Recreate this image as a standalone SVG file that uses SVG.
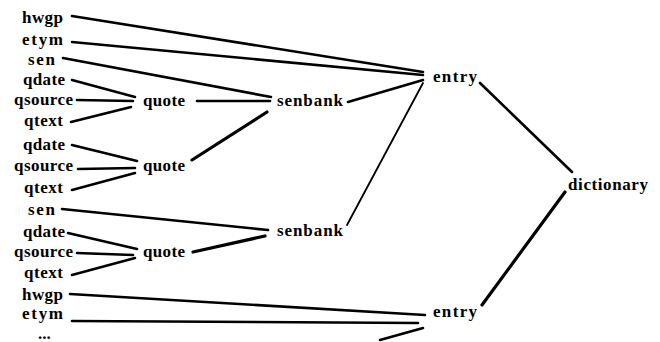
<svg xmlns="http://www.w3.org/2000/svg" width="660" height="342" viewBox="0 0 660 342">
<style>
text{font-family:"Liberation Serif","DejaVu Serif","Times New Roman",serif;font-weight:700;font-size:17px;fill:#000}
.e{stroke:#000;stroke-width:2.6;stroke-linecap:round;fill:none}
.t{stroke-width:1.8}
.k{stroke-width:3.2}
</style>
<rect width="660" height="342" fill="#fff"/>
<g id="connectors">
<line class="e" x1="72" y1="16" x2="423" y2="72"/>
<line class="e" x1="72" y1="42" x2="423" y2="75"/>
<line class="e" x1="63" y1="58" x2="271" y2="97"/>
<line class="e" x1="348" y1="102" x2="423" y2="80"/>
<line class="e t" x1="347" y1="225" x2="423" y2="83"/>
<line class="e" x1="197" y1="101" x2="270" y2="101"/>
<line class="e k" x1="192" y1="160" x2="267" y2="112"/>
<line class="e" x1="72" y1="80" x2="135" y2="97"/>
<line class="e" x1="77" y1="100" x2="133" y2="101"/>
<line class="e" x1="71" y1="122" x2="131" y2="107"/>
<line class="e" x1="72" y1="145" x2="137" y2="161"/>
<line class="e" x1="78" y1="169" x2="135" y2="168"/>
<line class="e" x1="72" y1="190" x2="135" y2="173"/>
<line class="e" x1="62" y1="209" x2="268" y2="230"/>
<line class="e k" x1="193" y1="252" x2="265" y2="236"/>
<line class="e" x1="68" y1="233" x2="137" y2="249"/>
<line class="e" x1="77" y1="253" x2="133" y2="255"/>
<line class="e" x1="72" y1="275" x2="135" y2="258"/>
<line class="e" x1="70" y1="294" x2="425" y2="315"/>
<line class="e" x1="72" y1="321" x2="418" y2="323"/>
<line class="e" x1="423" y1="328" x2="380" y2="340"/>
<line class="e" x1="480" y1="83" x2="572" y2="172"/>
<line class="e k" x1="482" y1="305" x2="565" y2="192"/>
</g>
<g id="hwgp1"><text x="22" y="23" textLength="41">hwgp</text></g>
<g id="etym1"><text x="22" y="45" textLength="41">etym</text></g>
<g id="sen1"><text x="28" y="65" textLength="27">sen</text></g>
<g id="qdate1"><text x="23" y="85" textLength="42">qdate</text></g>
<g id="qsource1"><text x="14" y="105" textLength="59">qsource</text></g>
<g id="qtext1"><text x="24" y="126" textLength="39">qtext</text></g>
<g id="qdate2"><text x="23" y="150" textLength="42">qdate</text></g>
<g id="qsource2"><text x="14" y="171" textLength="59">qsource</text></g>
<g id="qtext2"><text x="24" y="193" textLength="39">qtext</text></g>
<g id="sen2"><text x="28" y="215" textLength="27">sen</text></g>
<g id="qdate3"><text x="23" y="237" textLength="42">qdate</text></g>
<g id="qsource3"><text x="14" y="257" textLength="59">qsource</text></g>
<g id="qtext3"><text x="24" y="278" textLength="39">qtext</text></g>
<g id="hwgp2"><text x="22" y="300" textLength="41">hwgp</text></g>
<g id="etym2"><text x="22" y="319" textLength="41">etym</text></g>
<g id="more"><text x="38" y="339" font-size="9">...</text></g>
<g id="quote1"><text x="143" y="106" textLength="42">quote</text></g>
<g id="quote2"><text x="143" y="171" textLength="42">quote</text></g>
<g id="quote3"><text x="143" y="257" textLength="42">quote</text></g>
<g id="senbank1"><text x="277" y="106" textLength="66">senbank</text></g>
<g id="senbank2"><text x="277" y="236" textLength="66">senbank</text></g>
<g id="entry1"><text x="433" y="82" textLength="44">entry</text></g>
<g id="entry2"><text x="433" y="317" textLength="44">entry</text></g>
<g id="dictionary"><text x="568" y="190" textLength="80">dictionary</text></g>
</svg>
